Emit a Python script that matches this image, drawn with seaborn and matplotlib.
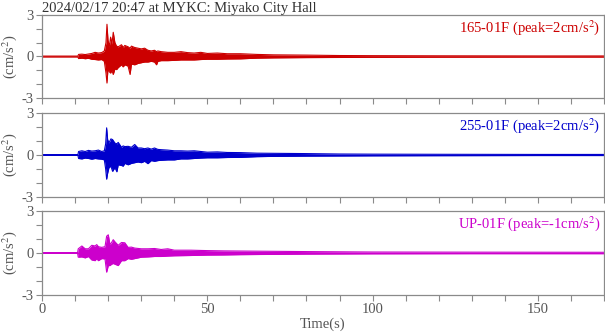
import matplotlib
matplotlib.use("Agg")
import matplotlib.pyplot as plt
import seaborn as sns
import numpy as np
import pandas as pd
from matplotlib.ticker import MultipleLocator, FuncFormatter

title = "2024/02/17 20:47 at MYKC: Miyako City Hall"
channels = ["165-01F", "255-01F", "UP-01F"]
colors = ["#cc0000", "#0000cc", "#cc00cc"]

# Envelope of each acceleration trace (cm/s^2): time (s), upper and lower extent
t_165 = [0, 10.8, 11.0, 12, 13, 14, 15, 16, 17, 18, 18.8, 19.3, 19.6, 19.9, 20.3, 20.7, 21.1, 21.5,
         22, 22.5, 23, 24, 24.5, 25, 26, 26.6, 27, 28, 29, 30, 31, 32, 33, 34, 34.6, 35, 36, 38, 40,
         42, 44, 46, 48, 50, 53, 56, 60, 65, 70, 80, 90, 100, 120, 150, 170]
up_165 = [0.03, 0.03, 0.15, 0.17, 0.14, 0.18, 0.22, 0.30, 0.25, 0.28, 0.40, 1.00, 2.33, 1.20, 0.70, 1.40, 0.90, 1.75,
          1.00, 0.75, 0.70, 0.85, 0.65, 0.80, 0.70, 0.60, 0.75, 0.65, 0.60, 0.55, 0.60, 0.45, 0.40, 0.45, 0.35, 0.40, 0.35, 0.30, 0.30,
          0.35, 0.28, 0.25, 0.30, 0.22, 0.25, 0.20, 0.20, 0.15, 0.12, 0.10, 0.07, 0.06, 0.05, 0.04, 0.04]
lo_165 = [-0.03, -0.03, -0.15, -0.12, -0.16, -0.13, -0.20, -0.22, -0.25, -0.22, -0.35, -1.20, -1.92, -0.90, -1.10, -1.20, -1.00, -1.30,
          -0.90, -0.95, -0.80, -0.60, -0.75, -0.60, -0.70, -1.30, -0.55, -0.60, -0.50, -0.45, -0.40, -0.40, -0.35, -0.40, -0.60, -0.35, -0.30, -0.30, -0.28,
          -0.25, -0.25, -0.25, -0.22, -0.20, -0.20, -0.18, -0.17, -0.12, -0.10, -0.08, -0.07, -0.06, -0.05, -0.04, -0.04]

t_255 = [0, 10.8, 11.0, 12, 13, 14, 15, 16, 17, 18, 18.8, 19.2, 19.5, 19.8, 20.2, 20.8, 21.3, 22,
         22.6, 23, 24, 24.5, 25, 26, 27, 28, 29, 30, 31, 32, 33, 34, 35, 36, 38, 40,
         42, 44, 46, 48, 50, 53, 56, 60, 65, 70, 80, 90, 100, 120, 150, 170]
up_255 = [0.03, 0.03, 0.25, 0.30, 0.25, 0.33, 0.28, 0.30, 0.35, 0.25, 0.30, 0.80, 1.94, 1.10, 0.86, 1.15, 1.10, 0.85,
          0.80, 0.90, 0.55, 0.65, 0.60, 0.62, 0.55, 0.75, 0.50, 0.50, 0.45, 0.50, 0.42, 0.50, 0.40, 0.38, 0.35, 0.30,
          0.30, 0.28, 0.30, 0.25, 0.20, 0.22, 0.18, 0.17, 0.13, 0.12, 0.10, 0.07, 0.06, 0.05, 0.04, 0.04]
lo_255 = [-0.03, -0.03, -0.25, -0.28, -0.22, -0.25, -0.30, -0.25, -0.28, -0.30, -0.35, -1.00, -1.73, -1.30, -0.90, -0.80, -1.17, -0.90,
          -1.20, -0.70, -0.75, -0.80, -0.60, -0.70, -0.60, -0.55, -0.50, -0.55, -0.45, -0.62, -0.40, -0.45, -0.40, -0.38, -0.35, -0.35,
          -0.28, -0.28, -0.25, -0.22, -0.20, -0.20, -0.18, -0.17, -0.12, -0.10, -0.08, -0.07, -0.06, -0.05, -0.04, -0.04]

t_up = [0, 10.7, 10.9, 12, 13, 14, 15, 16, 16.5, 17, 18, 19, 19.5, 20, 20.5, 21, 21.5, 22,
        23, 24, 25, 26, 27, 28, 30, 32, 34, 36, 38, 40, 45, 50, 55, 60, 70, 80, 100, 130, 170]
up_up = [0.03, 0.03, 0.30, 0.50, 0.30, 0.30, 0.55, 0.50, 0.60, 0.45, 0.40, 0.45, 1.20, 1.30, 0.60, 0.75, 0.95, 0.80,
         0.55, 0.75, 0.73, 0.40, 0.42, 0.35, 0.30, 0.30, 0.32, 0.25, 0.30, 0.20, 0.20, 0.17, 0.15, 0.14, 0.12, 0.10, 0.07, 0.06, 0.05]
lo_up = [-0.03, -0.03, -0.30, -0.28, -0.35, -0.25, -0.50, -0.55, -0.40, -0.55, -0.40, -0.42, -1.37, -0.90, -0.90, -0.80, -0.75, -0.80,
         -0.90, -0.55, -0.55, -0.40, -0.45, -0.40, -0.30, -0.28, -0.25, -0.25, -0.22, -0.20, -0.18, -0.15, -0.14, -0.12, -0.10, -0.08, -0.06, -0.05, -0.05]

traces = [(t_165, up_165, lo_165), (t_255, up_255, lo_255), (t_up, up_up, lo_up)]

sns.set_theme(style="ticks")
plt.rcParams["font.family"] = ["Liberation Serif", "DejaVu Serif"]
plt.rcParams["mathtext.fontset"] = "stix"

fig = plt.figure(figsize=(6.05, 3.34), dpi=100)
gray = "#555555"
frame = "#8a8a8a"
panels = [(0.0698, 0.7066, 0.9282, 0.2485), (0.0698, 0.4102, 0.9282, 0.2515), (0.0698, 0.1168, 0.9282, 0.2515)]

for i, ((t, up, lo), name, col, box) in enumerate(zip(traces, channels, colors, panels)):
    ax = fig.add_axes(box)
    df = pd.DataFrame({"t": t, "upper": up, "lower": lo})
    ax.fill_between(df["t"], df["lower"], df["upper"], color=col, linewidth=0)
    sns.lineplot(data=df, x="t", y="upper", ax=ax, color=col, linewidth=0.8)
    sns.lineplot(data=df, x="t", y="lower", ax=ax, color=col, linewidth=0.8)

    # signed peak of the trace
    peak = max(max(up), max(lo, key=abs), key=abs)
    ax.text(0.994, 0.96, f"{name} (peak={peak:.0f}cm/s$^2$)", transform=ax.transAxes,
            ha="right", va="top", color=col, fontsize=10.5)

    ax.set_xlim(0, 170)
    ax.set_ylim(-3, 3)
    ax.xaxis.set_major_locator(MultipleLocator(10))
    ax.yaxis.set_major_locator(MultipleLocator(1))
    ax.yaxis.set_major_formatter(FuncFormatter(lambda v, p: f"{v:.0f}" if abs(v) in (0, 3) else ""))
    if i == 2:
        ax.xaxis.set_major_formatter(FuncFormatter(lambda v, p: f"{v:.0f}" if v % 50 == 0 else ""))
        ax.set_xlabel("Time(s)", color=gray, fontsize=10.5, labelpad=1)
    else:
        ax.set_xticklabels([])
        ax.set_xlabel("")
    ax.set_ylabel("(cm/s$^2$)", color=gray, fontsize=10.5, labelpad=2)
    ax.tick_params(axis="both", direction="out", length=4, width=0.8, color=frame,
                   labelcolor=gray, labelsize=10.5, pad=2)
    for s in ax.spines.values():
        s.set_visible(True)
        s.set_color(frame)
        s.set_linewidth(0.9)
    if i == 0:
        ax.set_title(title, loc="left", color="#333333", fontsize=10.5, pad=1)

fig.savefig("out.png", dpi=100)
